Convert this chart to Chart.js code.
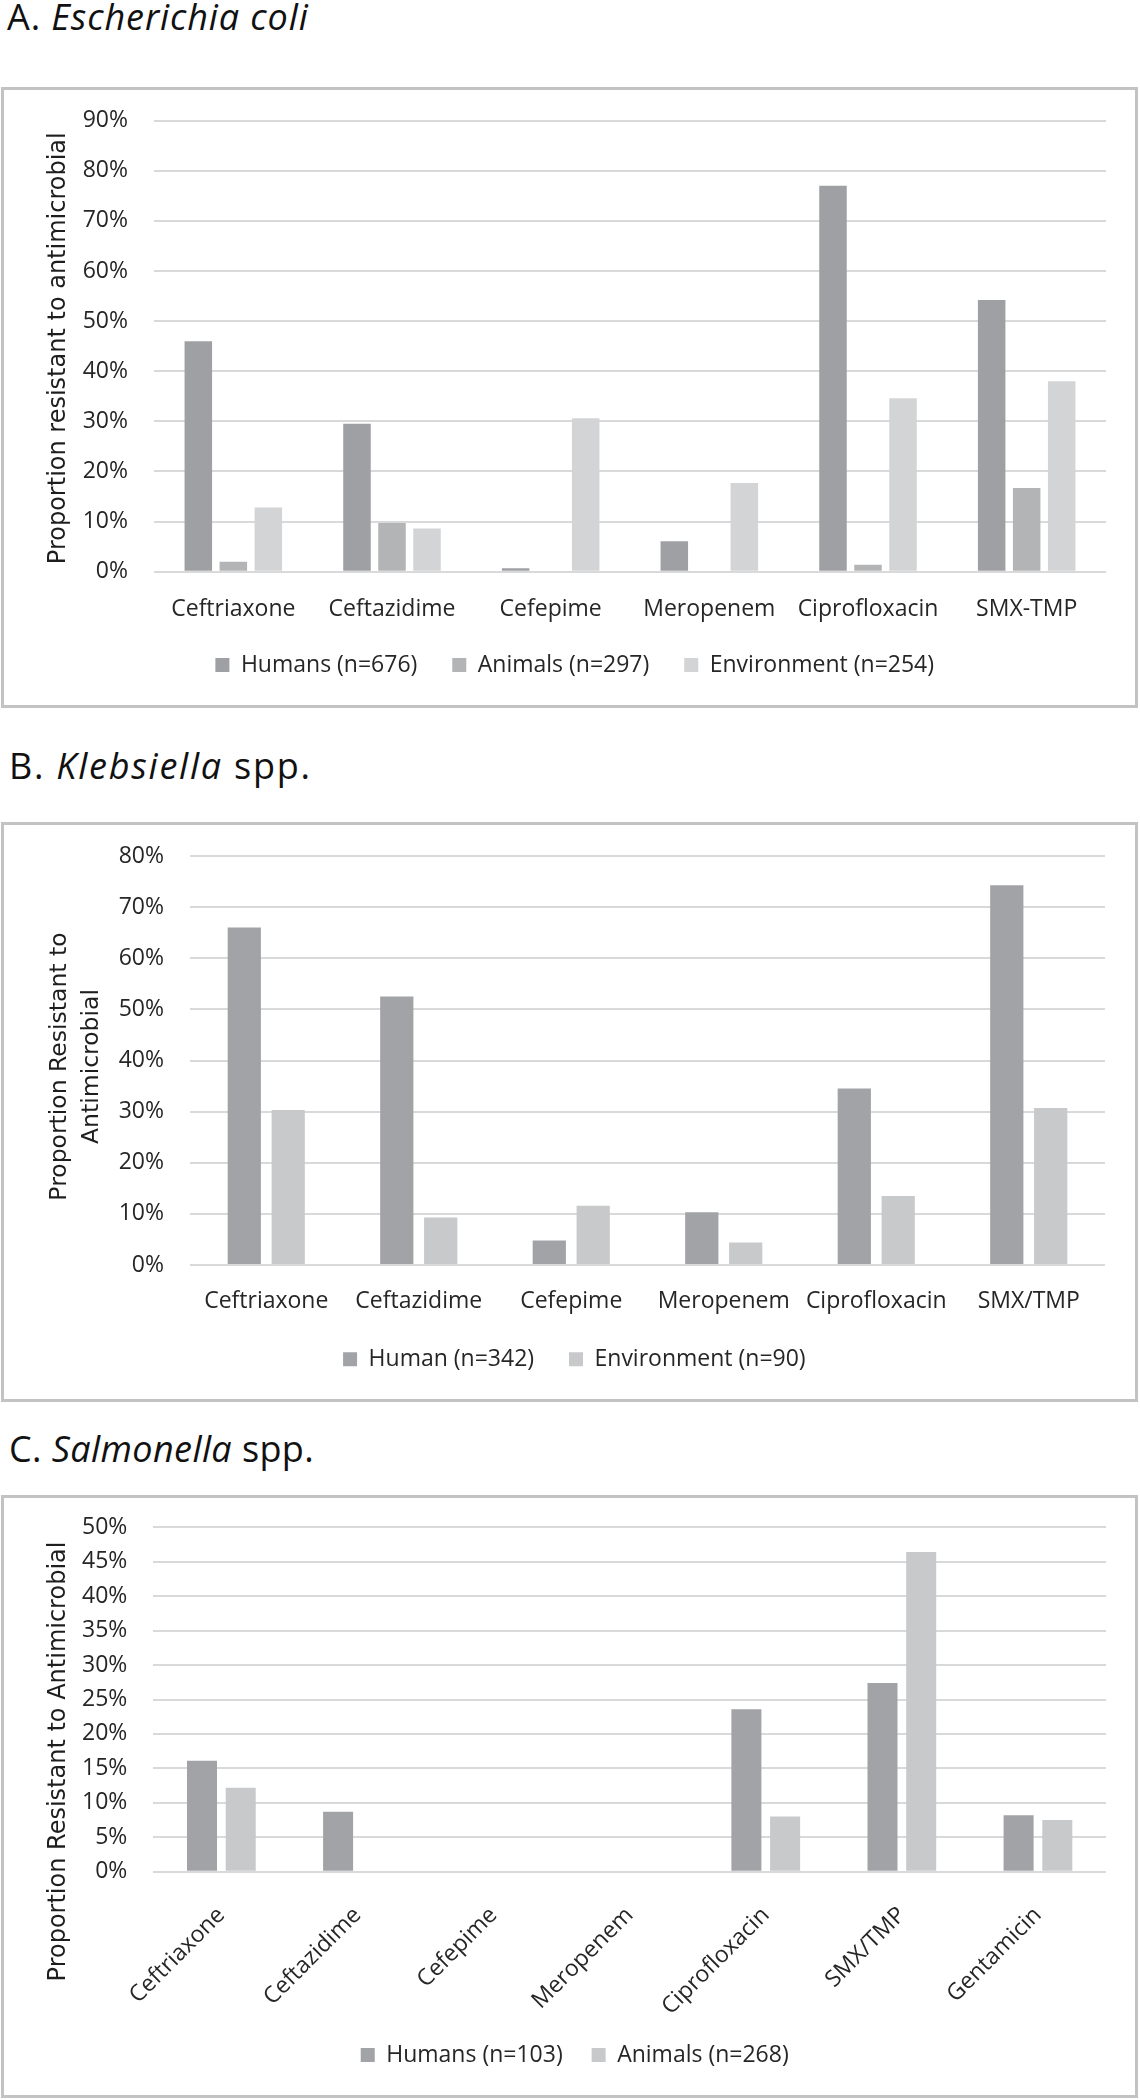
<!DOCTYPE html>
<html><head><meta charset="utf-8">
<script src="https://cdn.jsdelivr.net/npm/chart.js@4.4.0/dist/chart.umd.min.js"></script>
<style>
html,body{margin:0;padding:0;background:#fff;width:1140px;height:2100px;overflow:hidden;}
.title{position:absolute;left:7px;font-family:"Open Sans";font-size:36px;line-height:36px;color:#111;white-space:nowrap;}
.box{position:absolute;left:1px;width:1131px;border:3px solid #c3c3c3;background:#fff;}
canvas{display:block;}
</style></head><body>
<div class="title" style="top:-1.5px;letter-spacing:0.9px">A. <i>Escherichia coli</i></div>
<div class="box" style="top:87px;height:615px"><canvas id="cA" width="1131" height="615"></canvas></div>
<div class="title" style="top:748px;left:9px;letter-spacing:1.75px">B. <i>Klebsiella</i> spp.</div>
<div class="box" style="top:822px;height:574px"><canvas id="cB" width="1131" height="574"></canvas></div>
<div class="title" style="top:1430.7px;left:9px;letter-spacing:0.4px">C. <i>Salmonella</i> spp.</div>
<div class="box" style="top:1495px;height:597px"><canvas id="cC" width="1131" height="597"></canvas></div>
<script>
// ---- Panel A: Escherichia coli ----
const categoriesA = ['Ceftriaxone','Ceftazidime','Cefepime','Meropenem','Ciprofloxacin','SMX-TMP'];
const humansA = [46.0, 29.5, 0.7, 6.1, 77.0, 54.2];
const animalsA = [2.0, 9.7, 0, 0, 1.4, 16.7];
const environmentA = [12.8, 8.6, 30.6, 17.7, 34.6, 38.0];
const seriesA = ['Humans (n=676)','Animals (n=297)','Environment (n=254)'];
const yTitleA = ['Proportion resistant to antimicrobial'];
const yMaxA = 90, yStepA = 10;

// ---- Panel B: Klebsiella spp. ----
const categoriesB = ['Ceftriaxone','Ceftazidime','Cefepime','Meropenem','Ciprofloxacin','SMX/TMP'];
const humanB = [66.0, 52.5, 4.8, 10.3, 34.5, 74.3];
const environmentB = [30.3, 9.3, 11.6, 4.4, 13.5, 30.7];
const seriesB = ['Human (n=342)','Environment (n=90)'];
const yTitleB = ['Proportion Resistant to','Antimicrobial'];
const yMaxB = 80, yStepB = 10;

// ---- Panel C: Salmonella spp. ----
const categoriesC = ['Ceftriaxone','Ceftazidime','Cefepime','Meropenem','Ciprofloxacin','SMX/TMP','Gentamicin'];
const humansC = [16.1, 8.7, 0, 0, 23.6, 27.4, 8.2];
const animalsC = [12.2, 0, 0, 0, 8.0, 46.4, 7.5];
const seriesC = ['Humans (n=103)','Animals (n=268)'];
const yTitleC = ['Proportion Resistant to Antimicrobial'];
const yMaxC = 50, yStepC = 5;

Chart.defaults.font.family = '"Open Sans", sans-serif';
Chart.defaults.font.size = 23;
Chart.defaults.color = '#262626';

// rotated y-axis title, placed relative to the plot centre
const sideTitle = {
  id: 'sideTitle',
  afterDraw(chart, args, o) {
    if (!o || !o.text) return;
    const ctx = chart.ctx, a = chart.chartArea;
    ctx.save();
    ctx.translate(o.x, (a.top + a.bottom) / 2 + o.dy);
    ctx.rotate(-Math.PI / 2);
    ctx.font = o.size + 'px "DejaVu Sans"';
    ctx.fillStyle = '#1e1e1e';
    ctx.textAlign = 'center';
    ctx.textBaseline = 'middle';
    o.text.forEach((t, i) => ctx.fillText(t, 0, i * o.lh));
    ctx.restore();
  }
};

function makeChart(id, labels, datasets, yMax, yStep, yTitle, L) {
  new Chart(document.getElementById(id), {
    type: 'bar',
    plugins: [sideTitle],
    data: { labels: labels, datasets: datasets.map(d => ({
      label: d.label, data: d.data, backgroundColor: d.color, borderWidth: 0,
      categoryPercentage: L.cat, barPercentage: L.bar
    })) },
    options: {
      responsive: false, animation: false, devicePixelRatio: 1,
      layout: { padding: { top: L.padTop, right: L.padRight, bottom: L.padBottom, left: L.padLeft } },
      plugins: {
        legend: { position: 'bottom', labels: {
          boxWidth: 14, boxHeight: 14, padding: 17, color: '#262626', font: { size: 23 },
          generateLabels: chart => {
            const items = Chart.defaults.plugins.legend.labels.generateLabels(chart);
            items.forEach((it, i) => { if (i < items.length - 1) it.text = it.text + ' '.repeat(L.legSpaces); });
            return items;
          }
        } },
        tooltip: { enabled: false },
        sideTitle: { text: yTitle, x: L.tX, dy: L.tDy, size: L.tSize, lh: L.tLH }
      },
      scales: {
        x: {
          grid: { display: false }, border: { display: false },
          ticks: { autoSkip: false, maxRotation: L.rot, minRotation: L.rot, padding: L.xPad, color: '#262626', font: { size: 23 } },
          afterFit: s => { s.height = L.xHeight; s.paddingLeft = 0; s.paddingRight = 0; s.paddingTop = 0; s.paddingBottom = 0; }
        },
        y: {
          min: 0, max: yMax,
          grid: { color: '#d9d9d9', lineWidth: 2, drawTicks: false }, border: { display: false },
          ticks: { stepSize: yStep, padding: 26, color: '#262626', font: { size: 23 }, callback: v => v + '%' },
          afterFit: s => { s.width = L.yWidth; s.paddingLeft = 0; s.paddingRight = 0; s.paddingTop = 0; s.paddingBottom = 0; }
        }
      }
    }
  });
}

makeChart('cA', categoriesA, [
  { label: seriesA[0], data: humansA, color: '#9fa0a4' },
  { label: seriesA[1], data: animalsA, color: '#b3b4b6' },
  { label: seriesA[2], data: environmentA, color: '#d3d4d6' }
], yMaxA, yStepA, yTitleA,
{ cat: 0.662, bar: 0.786, padTop: 30.7, padRight: 29, padBottom: 18.5, padLeft: 39.4, legSpaces: 3,
  rot: 0, xPad: 15.5, xHeight: 64.8, yWidth: 110.6, tX: 55, tDy: 2, tSize: 24, tLH: 29 });

makeChart('cB', categoriesB, [
  { label: seriesB[0], data: humanB, color: '#a2a3a7' },
  { label: seriesB[1], data: environmentB, color: '#c8c9cb' }
], yMaxB, yStepB, yTitleB,
{ cat: 0.576, bar: 0.757, padTop: 31, padRight: 30, padBottom: 18.2, padLeft: 39.7, legSpaces: 3,
  rot: 0, xPad: 14.8, xHeight: 65.8, yWidth: 146.3, tX: 55.7, tDy: 6, tSize: 23.5, tLH: 32 });

makeChart('cC', categoriesC, [
  { label: seriesC[0], data: humansC, color: '#a2a3a7' },
  { label: seriesC[1], data: animalsC, color: '#c8c9cb' }
], yMaxC, yStepC, yTitleC,
{ cat: 0.569, bar: 0.775, padTop: 29.3, padRight: 29, padBottom: 18.5, padLeft: 39.4, legSpaces: 2,
  rot: 45, xPad: 22, xHeight: 154.8, yWidth: 109.9, tX: 55, tDy: 62, tSize: 24, tLH: 29 });
</script>
</body></html>
